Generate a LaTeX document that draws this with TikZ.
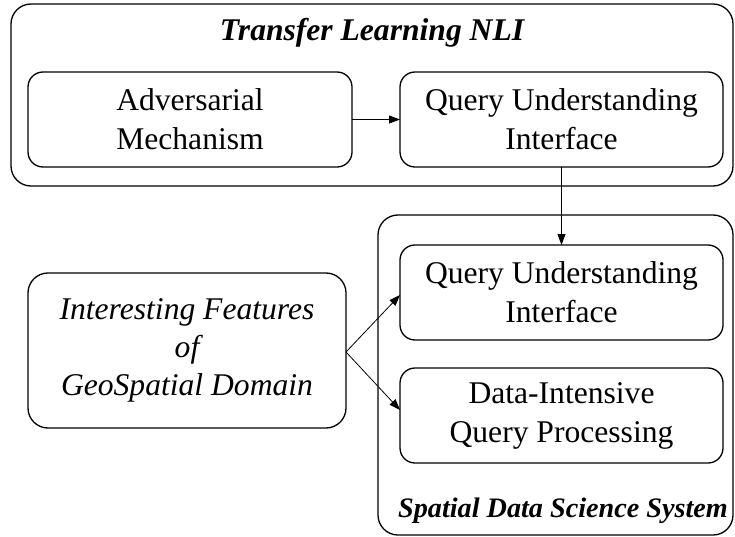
\documentclass[tikz,border=0pt]{standalone}
\usepackage{fontspec}
\setmainfont{Liberation Serif}
\usetikzlibrary{arrows.meta}
\begin{document}
\begin{tikzpicture}[x=1pt,y=-1pt,
  box/.style={draw, rounded corners=15pt, line width=1.3pt, inner sep=0pt, outer sep=0pt,
    align=center, font=\fontsize{31.6}{39}\selectfont},
  group/.style={draw, rounded corners=20pt, line width=1.3pt, inner sep=0pt, outer sep=0pt},
  title/.style={font=\fontsize{31.6}{38}\selectfont\bfseries\itshape, inner sep=0pt, anchor=base},
  link/.style={line width=0.8pt, -{Triangle[length=11pt,width=8pt]}}]
\useasboundingbox (0,0) rectangle (735,537);
% group frames
\node[group, minimum width=722pt, minimum height=182pt] (tl) at (372,95) {};
\node[group, minimum width=355pt, minimum height=320pt] (sds) at (555.5,375) {};
\node[title] (tltitle) at (372,40.5) {Transfer Learning NLI};
\node[title, font=\fontsize{28.2}{34}\selectfont\bfseries\itshape] (sdstitle) at (563,517) {Spatial Data Science System};
% component boxes
\node[box, minimum width=324pt, minimum height=95pt] (adv) at (190,119.5) {Adversarial\\Mechanism};
\node[box, minimum width=323pt, minimum height=95pt] (qui1) at (561.5,119.5) {Query Understanding\\Interface};
\node[box, minimum width=323pt, minimum height=95pt] (qui2) at (561.5,292.5) {Query Understanding\\Interface};
\node[box, minimum width=323pt, minimum height=95pt] (dip) at (561.5,415.5) {Data-Intensive\\Query Processing};
\node[box, rounded corners=20pt, font=\fontsize{31.6}{38}\selectfont\itshape, minimum width=318pt, minimum height=155pt] (feat) at (187,350.5) {Interesting Features\\of\\GeoSpatial Domain};
% connectors
\draw[link] (adv.east) -- (qui1.west);
\draw[link] (qui1.south) -- (qui2.north);
\draw[link] ([yshift=-1.5pt]feat.east) -- ([yshift=-2.5pt]qui2.west);
\draw[link] ([yshift=-1.5pt]feat.east) -- ([yshift=5.5pt]dip.west);
\end{tikzpicture}
\end{document}
